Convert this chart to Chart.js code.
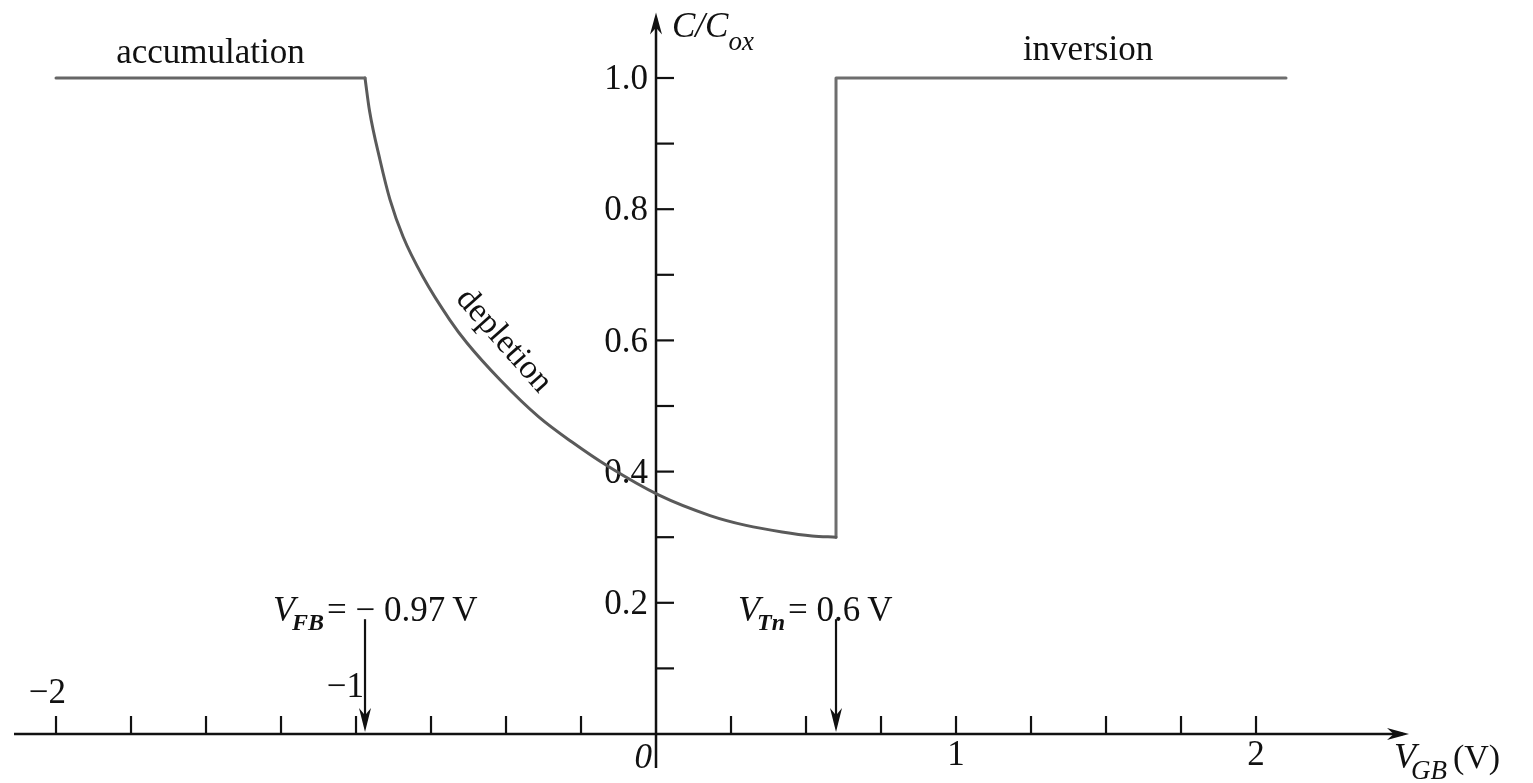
<!DOCTYPE html>
<html>
<head>
<meta charset="utf-8">
<title>MOS capacitor C–V curve</title>
<script src="https://cdn.jsdelivr.net/npm/chart.js@4.4.1/dist/chart.umd.min.js"></script>
<style>
  html, body { margin: 0; padding: 0; background: #fff; }
  #wrap { width: 1533px; height: 783px; position: relative; }
</style>
</head>
<body>
<div id="wrap"><canvas id="cv"></canvas></div>
<script>
// Gate-bulk voltage (V) and normalised capacitance C/Cox of the MOS C–V curve
const vgb    = [-2.0,
                -0.97, -0.955, -0.92, -0.887, -0.843, -0.777, -0.687, -0.63, -0.52, -0.39, -0.28, -0.16, 0.01, 0.18, 0.30, 0.42, 0.52, 0.60,
                 0.60, 2.10];
const cRatio = [1.0,
                 1.0,  0.95,  0.875, 0.815,  0.758,  0.697,  0.631,  0.596, 0.540, 0.483, 0.445, 0.408, 0.364, 0.333, 0.318, 0.308, 0.302, 0.300,
                 1.0,  1.0];

// Index ranges of the three operating regions along the curve
const accumulationRange = [0, 2];
const depletionRange    = [1, 19];
const inversionRange    = [18, 21];

// Axis ticks and their labels
const xTicks = [-2, -1.75, -1.5, -1.25, -1, -0.75, -0.5, -0.25, 0.25, 0.5, 0.75, 1, 1.25, 1.5, 1.75, 2];
const xTickLabelValues = [-2, -1, 0, 1, 2];
const xTickLabelText   = ['\u22122', '\u22121', '0', '1', '2'];
const yTicks = [0.1, 0.2, 0.3, 0.4, 0.5, 0.6, 0.7, 0.8, 0.9, 1.0];
const yTickLabelValues = [0.2, 0.4, 0.6, 0.8, 1.0];
const yTickLabelText   = ['0.2', '0.4', '0.6', '0.8', '1.0'];

// Marked voltages
const vFlatBand  = -0.97;
const vThreshold = 0.6;

// Operating-region names
const regionNames = ['accumulation', 'depletion', 'inversion'];

const SERIF = '"Liberation Serif", "DejaVu Serif", serif';
const INK = '#111';

function font(size, italic, bold) {
  return (italic ? 'italic ' : '') + (bold ? 'bold ' : '') + size + 'px ' + SERIF;
}

function points(range) {
  const out = [];
  for (let i = range[0]; i < range[1]; i++) out.push({ x: vgb[i], y: cRatio[i] });
  return out;
}

// Draw a run of text pieces (with optional subscripts) starting at x, baseline y
function drawRich(ctx, parts, x, y, align) {
  let total = 0;
  parts.forEach(p => { ctx.font = p.font; total += ctx.measureText(p.t).width + (p.gap || 0); });
  let cx = align === 'right' ? x - total : (align === 'center' ? x - total / 2 : x);
  parts.forEach(p => {
    ctx.font = p.font;
    ctx.textAlign = 'left';
    ctx.textBaseline = 'alphabetic';
    ctx.fillText(p.t, cx, y + (p.dy || 0));
    cx += ctx.measureText(p.t).width + (p.gap || 0);
  });
}

function arrowHead(ctx, tipX, tipY, dirX, dirY, len, half) {
  const bx = tipX - dirX * len, by = tipY - dirY * len;
  const px = -dirY, py = dirX;
  ctx.beginPath();
  ctx.moveTo(tipX, tipY);
  ctx.lineTo(bx + px * half, by + py * half);
  ctx.lineTo(tipX - dirX * len * 0.7, tipY - dirY * len * 0.7);
  ctx.lineTo(bx - px * half, by - py * half);
  ctx.closePath();
  ctx.fill();
}

const axesPlugin = {
  id: 'cvAxes',
  beforeDatasetsDraw(chart) {
    const ctx = chart.ctx;
    const xs = chart.scales.x, ys = chart.scales.y;
    const x0 = xs.getPixelForValue(0), y0 = ys.getPixelForValue(0);
    ctx.save();
    ctx.strokeStyle = INK;
    ctx.fillStyle = INK;
    ctx.lineWidth = 2.5;
    ctx.lineCap = 'butt';

    // horizontal axis with arrow
    const xEnd = xs.getPixelForValue(2.51);
    ctx.beginPath();
    ctx.moveTo(xs.getPixelForValue(-2.14), y0);
    ctx.lineTo(xEnd - 6, y0);
    ctx.stroke();
    arrowHead(ctx, xEnd, y0, 1, 0, 22, 6);

    // vertical axis with arrow
    const yTop = ys.getPixelForValue(1.1);
    ctx.beginPath();
    ctx.moveTo(x0, ys.getPixelForValue(-0.052));
    ctx.lineTo(x0, yTop + 6);
    ctx.stroke();
    arrowHead(ctx, x0, yTop, 0, -1, 22, 6);

    // tick marks
    ctx.lineWidth = 2.2;
    xTicks.forEach(v => {
      const px = xs.getPixelForValue(v);
      ctx.beginPath();
      ctx.moveTo(px, y0);
      ctx.lineTo(px, y0 - 18);
      ctx.stroke();
    });
    yTicks.forEach(v => {
      const py = ys.getPixelForValue(v);
      ctx.beginPath();
      ctx.moveTo(x0, py);
      ctx.lineTo(x0 + 18, py);
      ctx.stroke();
    });

    // tick labels
    ctx.textBaseline = 'alphabetic';
    xTickLabelValues.forEach((v, i) => {
      const px = xs.getPixelForValue(v);
      const t = xTickLabelText[i];
      if (v < 0) {
        ctx.font = font(35);
        ctx.textAlign = 'right';
        ctx.fillText(t, px + (v === -2 ? 10 : 8), y0 - (v === -2 ? 31 : 37));
      } else if (v === 0) {
        ctx.font = font(35, true);
        ctx.textAlign = 'right';
        ctx.fillText(t, px - 4, y0 + 34);
      } else {
        ctx.font = font(35);
        ctx.textAlign = 'center';
        ctx.fillText(t, px, y0 + 31);
      }
    });
    yTickLabelValues.forEach((v, i) => {
      ctx.font = font(35);
      ctx.textAlign = 'right';
      ctx.textBaseline = 'middle';
      ctx.fillText(yTickLabelText[i], x0 - 8, ys.getPixelForValue(v) + 2);
    });

    // axis titles
    ctx.fillStyle = INK;
    drawRich(ctx, [
      { t: 'C/C', font: font(35, true) },
      { t: 'ox', font: font(27, true), dy: 13 }
    ], x0 + 16, ys.getPixelForValue(1.1) + 25, 'left');
    drawRich(ctx, [
      { t: 'V', font: font(36, true), gap: -5 },
      { t: 'GB', font: font(27, true), dy: 11, gap: 6 },
      { t: '(V)', font: font(34) }
    ], xs.getPixelForValue(2.46), y0 + 34, 'left');

    // voltage markers
    ctx.lineWidth = 2.2;
    [vFlatBand, vThreshold].forEach(v => {
      const px = xs.getPixelForValue(v);
      const top = ys.getPixelForValue(0.175);
      ctx.beginPath();
      ctx.moveTo(px, top);
      ctx.lineTo(px, y0 - 12);
      ctx.stroke();
      arrowHead(ctx, px, y0 - 2, 0, 1, 24, 6);
    });
    const labelBase = ys.getPixelForValue(0.172);
    drawRich(ctx, [
      { t: 'V', font: font(36, true), gap: -3 },
      { t: 'FB', font: font(24, true, true), dy: 9, gap: 3 },
      { t: '= \u2212 0.97\u2009V', font: font(35) }
    ], xs.getPixelForValue(vFlatBand) - 92, labelBase, 'left');
    drawRich(ctx, [
      { t: 'V', font: font(36, true), gap: -3 },
      { t: 'Tn', font: font(24, true, true), dy: 9, gap: 3 },
      { t: '= 0.6\u2009V', font: font(35) }
    ], xs.getPixelForValue(vThreshold) - 98, labelBase, 'left');

    ctx.restore();
  },
  afterDatasetsDraw(chart) {
    const ctx = chart.ctx;
    const xs = chart.scales.x, ys = chart.scales.y;
    ctx.save();
    ctx.fillStyle = INK;
    ctx.textBaseline = 'alphabetic';
    ctx.font = font(35);
    ctx.textAlign = 'center';
    ctx.fillText(regionNames[0], xs.getPixelForValue(-1.485), ys.getPixelForValue(1.0) - 15);
    ctx.fillText(regionNames[2], xs.getPixelForValue(1.44), ys.getPixelForValue(1.0) - 18);

    // depletion label running along the falling branch
    ctx.translate(xs.getPixelForValue(-0.53), ys.getPixelForValue(0.59));
    ctx.rotate(48.5 * Math.PI / 180);
    ctx.font = font(34);
    ctx.fillText(regionNames[1], 0, 0);
    ctx.restore();
  }
};

const lineStyle = {
  showLine: true,
  borderWidth: 3,
  pointRadius: 0,
  fill: false,
  borderCapStyle: 'round',
  borderJoinStyle: 'round'
};

new Chart(document.getElementById('cv'), {
  type: 'scatter',
  data: {
    datasets: [
      Object.assign({ label: regionNames[0], data: points(accumulationRange), borderColor: '#666', tension: 0 }, lineStyle),
      Object.assign({ label: regionNames[1], data: points(depletionRange), borderColor: '#5a5a5a', cubicInterpolationMode: 'monotone' }, lineStyle),
      Object.assign({ label: regionNames[2], data: points(inversionRange), borderColor: '#6e6e6e', tension: 0, borderJoinStyle: 'miter' }, lineStyle)
    ]
  },
  options: {
    responsive: true,
    maintainAspectRatio: false,
    animation: false,
    layout: { padding: 0 },
    plugins: { legend: { display: false }, tooltip: { enabled: false } },
    scales: {
      x: { type: 'linear', min: -2.1867, max: 2.9233, display: false },
      y: { type: 'linear', min: -0.0747, max: 1.1189, display: false }
    }
  },
  plugins: [axesPlugin]
});
</script>
</body>
</html>
